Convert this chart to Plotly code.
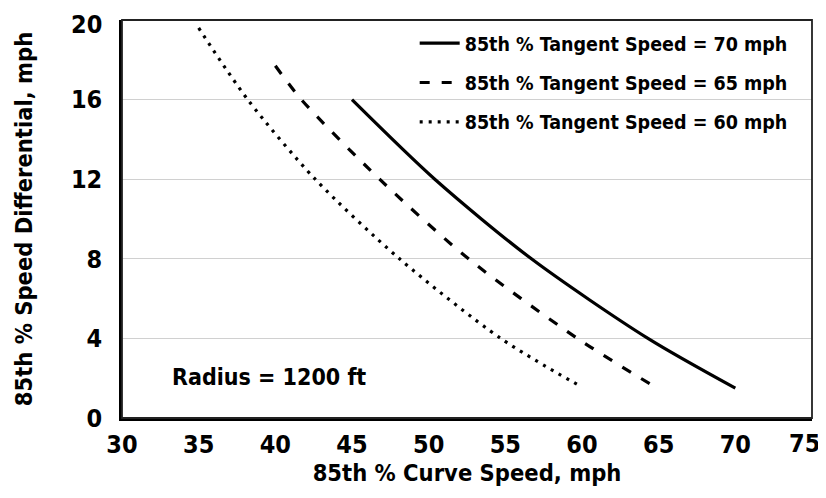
import plotly.graph_objects as go

# Data
x_70 = [45, 50.4, 56.7, 64.3, 70]
y_70 = [16.0, 12.0, 8.0, 4.0, 1.5]
x_65 = [40, 41.7, 46.8, 52.6, 59.7, 65]
y_65 = [17.7, 16.0, 12.0, 8.0, 4.0, 1.45]
x_60 = [35, 38.2, 42.6, 48.1, 54.7, 60]
y_60 = [19.6, 16.0, 12.0, 8.0, 4.0, 1.55]

names = ["85th % Tangent Speed = 70 mph",
         "85th % Tangent Speed = 65 mph",
         "85th % Tangent Speed = 60 mph"]

x_ticks = [30, 35, 40, 45, 50, 55, 60, 65, 70, 75]
y_ticks = [0, 4, 8, 12, 16, 20]

FONT = "DejaVu Sans Condensed, Liberation Sans Narrow, Roboto Condensed, sans-serif"
TICK_SIZE = 25

fig = go.Figure()
series = [(x_70, y_70, "solid", names[0], "g1"),
          (x_65, y_65, "10px,12px", names[1], "g2"),
          (x_60, y_60, "3px,6px", names[2], "g3")]
for xs, ys, dash, nm, grp in series:
    fig.add_trace(go.Scatter(
        x=xs, y=ys, mode="lines", name=f"<b>{nm}</b>", legendgroup=grp,
        line=dict(color="black", width=3.2, dash=dash, shape="spline", smoothing=0.8),
    ))

fig.add_annotation(x=39.6, y=2.06, text="<b>Radius = 1200 ft</b>", showarrow=False,
                   font=dict(family=FONT, size=23, color="black"))

# the outermost tick labels sit nudged inward (as in the reference) so they stay on the page
x_last = x_ticks[-1]
y_last = y_ticks[-1]
x_ticktext = [f"<b>{v}</b>" if v != x_last else "" for v in x_ticks]
y_ticktext = [f"<b>{v}</b>" if v != y_last else "" for v in y_ticks]
fig.add_annotation(x=x_last, xref="x", y=0, yref="paper", yanchor="middle", xanchor="center",
                   xshift=-8, yshift=-25, showarrow=False, text=f"<b>{x_last}</b>",
                   font=dict(family=FONT, size=TICK_SIZE, color="black"))
fig.add_annotation(x=0, xref="paper", y=y_last, yref="y", xanchor="right", yanchor="middle",
                   xshift=-18, yshift=-4, showarrow=False, text=f"<b>{y_last}</b>",
                   font=dict(family=FONT, size=TICK_SIZE, color="black"))

# thin frame around plot area
fig.add_shape(type="rect", xref="paper", yref="paper", x0=0, y0=0, x1=1, y1=1,
              line=dict(color="#222", width=1.8), layer="above")

# page body adds an 8px margin, so the figure is sized to fill the rest of the window
fig.update_layout(
    width=818, height=490,
    margin=dict(l=114, r=14, t=12, b=80, autoexpand=False),
    paper_bgcolor="white", plot_bgcolor="white",
    font=dict(family=FONT, color="black"),
    showlegend=True,
    legend=dict(x=0.972, y=0.99, xanchor="right", yanchor="top",
                bgcolor="rgba(0,0,0,0)", font=dict(family=FONT, size=19.5, color="black"),
                tracegroupgap=11, itemwidth=40),
    xaxis=dict(range=[30, 75], tickvals=x_ticks, ticktext=x_ticktext,
               showgrid=False, zeroline=False, showline=True, linecolor="black", linewidth=2.5,
               ticks="", tickfont=dict(family=FONT, size=TICK_SIZE), automargin=False,
               ticklabelstandoff=2,
               title=dict(text="<b>85th % Curve Speed, mph</b>", font=dict(family=FONT, size=23.5),
                          standoff=6)),
    yaxis=dict(range=[0, 20], tickvals=y_ticks, ticktext=y_ticktext,
               showgrid=True, gridcolor="#d0d0d0", gridwidth=1, zeroline=False,
               showline=True, linecolor="black", linewidth=2.5, ticklabelstandoff=12,
               ticks="", tickfont=dict(family=FONT, size=TICK_SIZE), automargin=False,
               title=dict(text="<b>85th % Speed Differential, mph</b>", font=dict(family=FONT, size=23.5),
                          standoff=32)),
)

fig.write_html("out.html")
